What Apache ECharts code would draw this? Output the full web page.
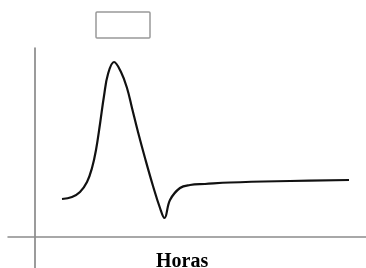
<!DOCTYPE html>
<html>
<head>
<meta charset="utf-8">
<script src="https://cdn.jsdelivr.net/npm/echarts@6/dist/echarts.min.js"></script>
<style>
  html, body { margin: 0; padding: 0; background: #fff; }
  #chart { width: 366px; height: 268px; }
</style>
</head>
<body>
<div id="chart"></div>
<script>
// horas (eje x) y nivel (eje y)
const horas = [2.75, 3.75, 4.55, 5.25, 5.75, 6.15, 6.55, 6.95, 7.35, 7.95, 8.65, 9.25, 9.75, 10.35,
  11.05, 11.85, 12.55, 13.0, 13.55, 14.55, 15.55, 17.05, 19.55, 25.55, 31.45];
const nivel = [3.8, 4.0, 4.5, 5.5, 6.9, 8.7, 11.3, 14.1, 16.3, 17.5, 16.5, 14.9, 12.9, 10.5,
  7.9, 5.1, 2.9, 1.9, 3.7, 4.9, 5.2, 5.3, 5.45, 5.6, 5.7];
const xTitulo = 'Horas';

const myChart = echarts.init(document.getElementById('chart'));

myChart.setOption({
  animation: false,
  grid: {left: 8, right: 0, top: 48, bottom: 0},
  title: {
    text: xTitulo,
    left: 151,
    top: 247,
    textStyle: {fontFamily: 'Liberation Serif', fontWeight: 'bold', fontSize: 20, color: '#000'}
  },
  xAxis: {
    type: 'value',
    min: -2.65,
    max: 33.15,
    axisLine: {onZero: true, lineStyle: {color: '#8c8c8c', width: 1.5}},
    axisTick: {show: false},
    axisLabel: {show: false},
    splitLine: {show: false}
  },
  yAxis: {
    type: 'value',
    min: -3.1,
    max: 18.9,
    axisLine: {show: true, onZero: true, lineStyle: {color: '#7a7a7a', width: 1.5}},
    axisTick: {show: false},
    axisLabel: {show: false},
    splitLine: {show: false}
  },
  graphic: [
    {
      type: 'rect',
      shape: {x: 96, y: 12, width: 54, height: 26, r: 1},
      style: {fill: '#fff', stroke: '#999', lineWidth: 1.5}
    }
  ],
  series: [
    {
      type: 'line',
      data: horas.map((h, i) => [h, nivel[i]]),
      smooth: 0.4,
      showSymbol: false,
      lineStyle: {color: '#111', width: 2.2}
    }
  ]
});
</script>
</body>
</html>
